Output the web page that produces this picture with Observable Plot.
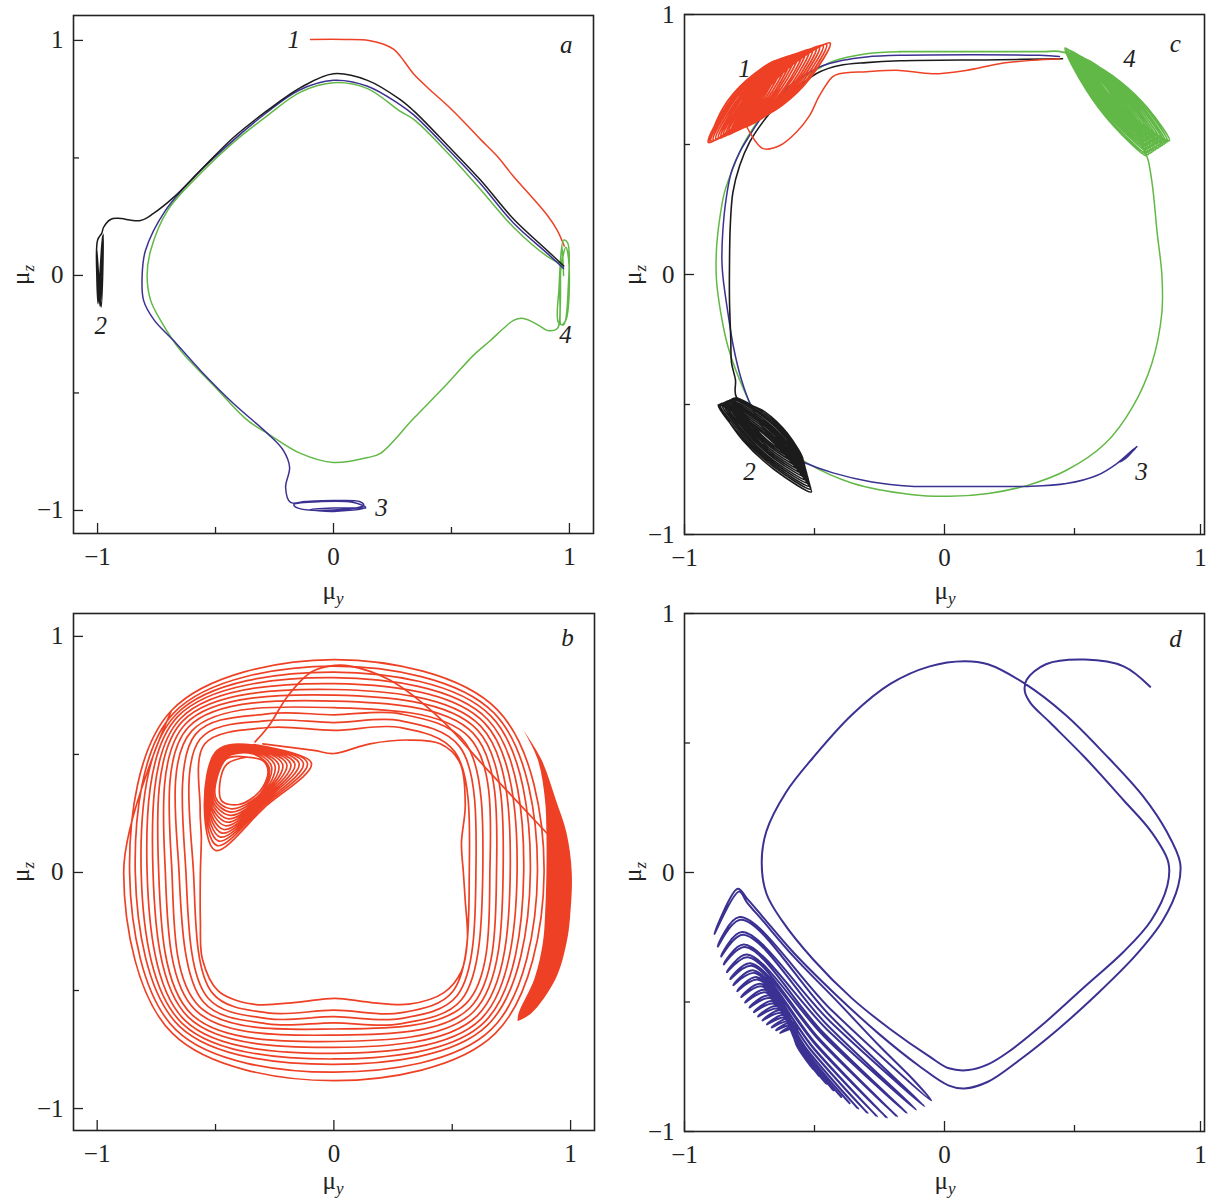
<!DOCTYPE html>
<html><head><meta charset="utf-8">
<script src="https://cdn.jsdelivr.net/npm/d3@7"></script>
<script src="https://cdn.jsdelivr.net/npm/@observablehq/plot@0.6"></script>
<style>
body{margin:0;background:#fff;}
#root{position:relative;width:1207px;height:1200px;overflow:hidden;font-family:"Liberation Serif","Times New Roman",serif;color:#222;}
.lab{position:absolute;font-size:25px;white-space:nowrap;line-height:1;}
.lab .s{font-style:italic;font-size:17px;position:relative;top:5px;}
</style></head><body><div id="root"></div>
<script>
const RED="#ee4024", BLUE="#3a3192", GREEN="#62b846", BLACK="#1b1b1b";
const majorTicks=[-1,0,1], minorTicks=[-0.5,0.5];

// ---------- Panel a ----------
const aRed=[[-0.097,1.004],[0.05,1.004],[0.15,1.0],[0.21,0.985],[0.256,0.962],[0.285,0.93],[0.305,0.904],[0.34,0.857],[0.411,0.788],[0.483,0.723],[0.551,0.655],[0.623,0.579],[0.695,0.506],[0.763,0.421],[0.835,0.34],[0.907,0.255],[0.949,0.191],[0.978,0.125]];
const aBlack=[[-0.99,0.0],[-0.978,0.17],[-0.998,-0.12],[-1.004,0.12],[-0.985,-0.135],[-0.976,0.175],[-0.995,-0.11],[-1.003,0.1],[-0.99,-0.13],[-0.98,0.16],[-0.997,-0.08],[-1.0,0.15],[-0.982,0.18],[-0.975,0.204],[-0.945,0.238],[-0.915,0.243],[-0.818,0.234],[-0.763,0.264],[-0.678,0.332],[-0.564,0.447],[-0.424,0.587],[-0.28,0.702],[-0.14,0.799],[0,0.858],[0.144,0.83],[0.28,0.75],[0.34,0.70],[0.482,0.555],[0.623,0.406],[0.764,0.239],[0.906,0.106],[0.976,0.04]];
const aBlue=[[0.975,0.03],[0.906,0.094],[0.764,0.222],[0.623,0.39],[0.482,0.54],[0.34,0.683],[0.28,0.728],[0.144,0.805],[0,0.83],[-0.148,0.787],[-0.288,0.689],[-0.424,0.576],[-0.572,0.438],[-0.712,0.277],[-0.797,0.106],[-0.811,0.0],[-0.805,-0.106],[-0.76,-0.19],[-0.678,-0.277],[-0.564,-0.404],[-0.424,-0.545],[-0.28,-0.672],[-0.212,-0.745],[-0.186,-0.817],[-0.203,-0.902],[-0.182,-0.966],[-0.12,-0.962],[0.0,-0.958],[0.11,-0.962],[0.128,-0.978],[0.0,-0.998],[-0.15,-0.99],[-0.168,-0.975],[-0.05,-0.962],[0.08,-0.965],[0.136,-0.987],[0.0,-1.004],[-0.1,-0.997],[0.0,-0.99],[0.136,-0.99]];
const aGreen=[[0.975,0.0],[0.968,0.13],[0.956,-0.05],[0.953,-0.2],[0.975,-0.21],[0.995,-0.05],[0.992,0.14],[0.975,0.15],[0.962,-0.1],[0.965,-0.21],[0.985,-0.19],[0.998,0.05],[0.985,0.12],[0.96,0.0],[0.949,-0.226],[0.907,-0.234],[0.864,-0.209],[0.805,-0.183],[0.763,-0.191],[0.72,-0.226],[0.665,-0.277],[0.593,-0.34],[0.483,-0.46],[0.339,-0.609],[0.199,-0.757],[0.144,-0.775],[0,-0.796],[-0.14,-0.757],[-0.28,-0.672],[-0.364,-0.617],[-0.508,-0.468],[-0.648,-0.32],[-0.733,-0.191],[-0.775,-0.106],[-0.79,0.0],[-0.775,0.106],[-0.703,0.277],[-0.564,0.434],[-0.424,0.566],[-0.28,0.68],[-0.14,0.78],[0,0.82],[0.144,0.795],[0.28,0.70],[0.34,0.664],[0.482,0.523],[0.623,0.366],[0.764,0.204],[0.906,0.081],[0.962,0.05]];
const aLabels=[{x:-0.169,y:1.0,t:"1"},{x:-0.987,y:-0.213,t:"2"},{x:0.203,y:-0.991,t:"3"},{x:0.983,y:-0.255,t:"4"},{x:0.987,y:0.979,t:"a"}];

// ---------- Panel b ----------
const bLine=[[0.90,0.166],[0.646,0.438],[0.449,0.652],[0.234,0.816],[0.07,0.874],[0.004,0.877],[-0.095,0.849],[-0.193,0.75],[-0.276,0.619],[-0.333,0.553]];
const bSpiral=[
[-0.338,0.542],[-0.095,0.463],[-0.295,0.274],[-0.5,0.093],[-0.547,0.277],[-0.493,0.517],
[-0.338,0.540],[-0.112,0.463],[-0.298,0.281],[-0.493,0.114],[-0.544,0.280],[-0.490,0.514],
[-0.338,0.537],[-0.129,0.463],[-0.299,0.288],[-0.486,0.133],[-0.541,0.284],[-0.487,0.511],
[-0.338,0.534],[-0.147,0.462],[-0.301,0.295],[-0.479,0.150],[-0.538,0.288],[-0.484,0.508],
[-0.338,0.531],[-0.165,0.460],[-0.302,0.301],[-0.472,0.167],[-0.535,0.291],[-0.482,0.506],
[-0.338,0.528],[-0.182,0.459],[-0.304,0.306],[-0.465,0.182],[-0.532,0.294],[-0.479,0.503],
[-0.338,0.525],[-0.199,0.458],[-0.305,0.312],[-0.458,0.198],[-0.528,0.298],[-0.476,0.500],
[-0.338,0.523],[-0.216,0.456],[-0.305,0.318],[-0.451,0.213],[-0.524,0.301],[-0.473,0.497],
[-0.338,0.518],[-0.233,0.455],[-0.306,0.322],[-0.445,0.227],[-0.518,0.305],[-0.469,0.493],
[-0.338,0.514],[-0.249,0.453],[-0.306,0.326],[-0.439,0.242],[-0.513,0.309],[-0.465,0.489],
[-0.340,0.508],[-0.264,0.451],[-0.308,0.331],[-0.436,0.256],[-0.507,0.314],[-0.460,0.484],
[-0.345,0.503],[-0.274,0.446],[-0.309,0.335],[-0.436,0.270],[-0.500,0.319],[-0.455,0.480],
[-0.366,0.489],[-0.298,0.472],[-0.278,0.425],[-0.312,0.345],[-0.401,0.288],[-0.473,0.302],[-0.482,0.376],[-0.453,0.458],[-0.366,0.489]];
const bLoops=[
[-0.30,0.545],[-0.085,0.517],[0.0,0.504],[0.152,0.545],[0.317,0.561],[0.449,0.545],[0.53,0.47],[0.555,0.29],[0.539,0.125],[0.547,0.0],[0.555,-0.12],[0.564,-0.286],[0.539,-0.418],[0.465,-0.509],[0.317,-0.558],[0.152,-0.55],[0.004,-0.533],[-0.16,-0.55],[-0.341,-0.558],[-0.49,-0.5],[-0.555,-0.369],[-0.564,-0.204],[-0.564,0.0],[-0.560,0.15],[-0.565,0.27],
[-0.545,0.545],[-0.28,0.614],[0,0.602],[0.28,0.614],[0.511,0.511],[0.572,0],[0.503,-0.503],[0.28,-0.595],[0,-0.583],[-0.28,-0.595],[-0.512,-0.512],[-0.593,0],
[-0.565,0.565],[-0.28,0.643],[0,0.635],[0.28,0.643],[0.532,0.532],[0.600,0],[0.521,-0.521],[0.28,-0.619],[0,-0.611],[-0.28,-0.619],[-0.532,-0.532],[-0.625,0],
[-0.585,0.585],[-0.28,0.672],[0,0.668],[0.28,0.672],[0.553,0.553],[0.629,0],[0.539,-0.539],[0.28,-0.641],[0,-0.637],[-0.28,-0.641],[-0.550,-0.550],[-0.654,0],
[-0.600,0.600],[0,0.698],[0.572,0.572],[0.659,0],[0.557,-0.557],[0,-0.663],[-0.568,-0.568],[-0.684,0],
[-0.615,0.615],[0,0.726],[0.589,0.589],[0.687,0],[0.574,-0.574],[0,-0.689],[-0.584,-0.584],[-0.712,0],
[-0.628,0.628],[0,0.751],[0.605,0.605],[0.715,0],[0.590,-0.590],[0,-0.716],[-0.601,-0.601],[-0.740,0],
[-0.640,0.640],[0,0.775],[0.620,0.620],[0.745,0],[0.606,-0.606],[0,-0.741],[-0.614,-0.614],[-0.764,0],
[-0.650,0.650],[0,0.800],[0.635,0.635],[0.774,0],[0.621,-0.621],[0,-0.766],[-0.628,-0.628],[-0.789,0],
[-0.660,0.660],[0,0.825],[0.649,0.649],[0.802,0],[0.635,-0.635],[0,-0.790],[-0.640,-0.640],[-0.814,0],
[-0.668,0.668],[0,0.849],[0.663,0.663],[0.830,0],[0.648,-0.648],[0,-0.813],[-0.652,-0.652],[-0.839,0],
[-0.676,0.676],[0,0.874],[0.676,0.676],[0.860,0],[0.665,-0.665],[0,-0.846],[-0.667,-0.667],[-0.863,0],
[-0.686,0.686],[0,0.902],[0.690,0.690],[0.888,0],[0.682,-0.682],[0,-0.882],[-0.682,-0.682],[-0.888,0],[-0.686,0.686]];
const bBandY=[0.602,0.474,0.305,0.165,0.0,-0.19,-0.30,-0.45,-0.60,-0.632];
const bBandX1=[0.802,0.864,0.894,0.90,0.90,0.894,0.885,0.85,0.782,0.778];
const bBandX2=[0.802,0.88,0.94,0.985,1.007,1.0,0.985,0.94,0.835,0.778];
const bLabels=[{x:0.987,y:0.992,t:"b"}];

// ---------- Panel c ----------
const cRedPath=[[0.442,0.830],[0.338,0.824],[0.212,0.811],[0.083,0.785],[-0.046,0.772],[-0.173,0.785],[-0.30,0.78],[-0.404,0.772],[-0.431,0.76],[-0.481,0.688],[-0.519,0.611],[-0.57,0.547],[-0.635,0.495],[-0.70,0.485],[-0.763,0.573]];
const cRedCluster=[
[-0.763,0.573],[-0.623,0.652],[-0.516,0.757],[-0.440,0.890],[-0.580,0.811],[-0.687,0.706],
[-0.773,0.568],[-0.635,0.647],[-0.528,0.752],[-0.454,0.885],[-0.592,0.806],[-0.699,0.701],
[-0.782,0.565],[-0.645,0.643],[-0.540,0.749],[-0.467,0.881],[-0.604,0.803],[-0.709,0.697],
[-0.792,0.560],[-0.656,0.639],[-0.553,0.744],[-0.481,0.877],[-0.617,0.798],[-0.720,0.693],
[-0.802,0.556],[-0.667,0.634],[-0.565,0.740],[-0.494,0.872],[-0.629,0.794],[-0.731,0.688],
[-0.812,0.551],[-0.679,0.629],[-0.577,0.735],[-0.508,0.867],[-0.641,0.789],[-0.743,0.683],
[-0.821,0.547],[-0.689,0.626],[-0.589,0.731],[-0.521,0.864],[-0.653,0.785],[-0.753,0.680],
[-0.831,0.543],[-0.700,0.621],[-0.602,0.727],[-0.535,0.859],[-0.666,0.781],[-0.764,0.675],
[-0.840,0.538],[-0.711,0.616],[-0.613,0.722],[-0.548,0.854],[-0.677,0.776],[-0.775,0.670],
[-0.850,0.535],[-0.722,0.613],[-0.626,0.718],[-0.562,0.850],[-0.690,0.772],[-0.786,0.667],
[-0.859,0.530],[-0.732,0.608],[-0.638,0.714],[-0.575,0.846],[-0.702,0.768],[-0.796,0.662],
[-0.869,0.525],[-0.744,0.603],[-0.650,0.709],[-0.589,0.841],[-0.714,0.763],[-0.808,0.657],
[-0.879,0.522],[-0.755,0.600],[-0.662,0.705],[-0.602,0.837],[-0.726,0.759],[-0.819,0.654],
[-0.889,0.517],[-0.766,0.595],[-0.675,0.700],[-0.616,0.832],[-0.739,0.754],[-0.830,0.649],
[-0.898,0.513],[-0.776,0.591],[-0.687,0.696],[-0.629,0.828],[-0.751,0.750],[-0.840,0.645],
[-0.908,0.508],[-0.788,0.586],[-0.699,0.691],[-0.643,0.823],[-0.763,0.745],[-0.852,0.640],[-0.908,0.508]];
const cBlack=[[0.454,0.830],[0.212,0.826],[-0.173,0.822],[-0.301,0.815],[-0.404,0.804],[-0.481,0.779],[-0.558,0.727],[-0.635,0.663],[-0.699,0.586],[-0.75,0.508],[-0.788,0.418],[-0.814,0.315],[-0.824,0.186],[-0.827,0.032],[-0.827,-0.097],[-0.822,-0.25],[-0.819,-0.34],[-0.804,-0.405],
[-0.800,-0.472],[-0.691,-0.528],[-0.606,-0.609],[-0.545,-0.715],[-0.654,-0.659],[-0.739,-0.578],
[-0.806,-0.475],[-0.694,-0.534],[-0.606,-0.617],[-0.542,-0.726],[-0.654,-0.667],[-0.742,-0.584],
[-0.813,-0.477],[-0.698,-0.539],[-0.606,-0.625],[-0.539,-0.737],[-0.654,-0.675],[-0.746,-0.589],
[-0.819,-0.480],[-0.701,-0.544],[-0.606,-0.634],[-0.536,-0.748],[-0.654,-0.684],[-0.749,-0.594],
[-0.826,-0.483],[-0.704,-0.550],[-0.607,-0.642],[-0.533,-0.759],[-0.655,-0.692],[-0.752,-0.600],
[-0.832,-0.486],[-0.707,-0.556],[-0.607,-0.650],[-0.530,-0.770],[-0.655,-0.700],[-0.755,-0.606],
[-0.838,-0.488],[-0.710,-0.561],[-0.607,-0.658],[-0.527,-0.781],[-0.655,-0.708],[-0.758,-0.611],
[-0.845,-0.491],[-0.714,-0.566],[-0.607,-0.667],[-0.524,-0.792],[-0.655,-0.717],[-0.762,-0.616],
[-0.851,-0.494],[-0.717,-0.572],[-0.607,-0.675],[-0.521,-0.803],[-0.655,-0.725],[-0.765,-0.622],
[-0.858,-0.496],[-0.721,-0.577],[-0.607,-0.683],[-0.518,-0.814],[-0.655,-0.733],[-0.769,-0.627],
[-0.864,-0.499],[-0.724,-0.583],[-0.607,-0.691],[-0.515,-0.825],[-0.655,-0.741],[-0.772,-0.633],
[-0.870,-0.502],[-0.727,-0.588],[-0.607,-0.700],[-0.512,-0.836],[-0.655,-0.750],[-0.775,-0.638],[-0.870,-0.502]];
const cBlue=[[0.442,0.838],[0.365,0.843],[-0.173,0.843],[-0.301,0.837],[-0.391,0.824],[-0.481,0.798],[-0.558,0.753],[-0.635,0.688],[-0.699,0.611],[-0.75,0.534],[-0.788,0.47],[-0.82,0.393],[-0.84,0.29],[-0.853,0.161],[-0.856,0.05],[-0.851,-0.019],[-0.833,-0.148],[-0.812,-0.277],[-0.781,-0.405],[-0.743,-0.508],[-0.683,-0.611],[-0.608,-0.688],[-0.535,-0.725],[-0.429,-0.763],[-0.279,-0.798],[-0.131,-0.814],[0.019,-0.815],[0.169,-0.815],[0.319,-0.815],[0.469,-0.804],[0.588,-0.772],[0.663,-0.727],[0.731,-0.669],[0.70,-0.705],[0.672,-0.722],[0.735,-0.668],[0.712,-0.69],[0.68,-0.715],[0.74,-0.662]];
const cGreenCluster=[[-0.173,0.857],[0.1,0.857],[0.377,0.857],[0.44,0.858],
[0.545,0.824],[0.676,0.742],[0.782,0.639],[0.865,0.515],[0.734,0.597],[0.628,0.700],
[0.539,0.828],[0.669,0.743],[0.776,0.638],[0.858,0.511],[0.728,0.596],[0.621,0.701],
[0.533,0.831],[0.663,0.744],[0.769,0.635],[0.851,0.506],[0.721,0.593],[0.615,0.702],
[0.526,0.835],[0.656,0.745],[0.763,0.634],[0.845,0.502],[0.715,0.592],[0.608,0.703],
[0.520,0.838],[0.650,0.745],[0.756,0.632],[0.838,0.497],[0.708,0.590],[0.602,0.703],
[0.514,0.842],[0.644,0.747],[0.749,0.630],[0.831,0.493],[0.701,0.588],[0.596,0.705],
[0.508,0.846],[0.637,0.748],[0.743,0.628],[0.824,0.488],[0.695,0.586],[0.589,0.706],
[0.501,0.849],[0.630,0.748],[0.736,0.627],[0.817,0.484],[0.688,0.585],[0.582,0.706],
[0.495,0.853],[0.624,0.749],[0.729,0.625],[0.810,0.479],[0.681,0.583],[0.576,0.707],
[0.489,0.857],[0.618,0.751],[0.722,0.623],[0.803,0.475],[0.674,0.581],[0.570,0.709],
[0.483,0.860],[0.612,0.751],[0.716,0.621],[0.797,0.470],[0.668,0.579],[0.564,0.709],
[0.476,0.864],[0.605,0.752],[0.709,0.620],[0.790,0.466],[0.661,0.578],[0.557,0.710],
[0.470,0.867],[0.598,0.753],[0.703,0.617],[0.783,0.461],[0.655,0.575],[0.550,0.711],
[0.464,0.871],[0.592,0.754],[0.696,0.616],[0.776,0.457],[0.648,0.574],[0.544,0.712],
[0.464,0.871],[0.592,0.754],[0.696,0.616],[0.776,0.457]];
const cGreenLoop=[[0.776,0.457],[0.782,0.444],[0.80,0.34],[0.818,0.16],[0.836,0.0],[0.836,-0.147],[0.798,-0.340],[0.723,-0.510],[0.619,-0.649],[0.469,-0.753],[0.319,-0.811],[0.169,-0.842],[0.019,-0.853],[-0.131,-0.846],[-0.354,-0.803],[-0.535,-0.722],[-0.654,-0.637],[-0.728,-0.533],[-0.788,-0.405],[-0.833,-0.277],[-0.86,-0.15],[-0.877,-0.02],[-0.877,0.097],[-0.865,0.212],[-0.846,0.317],[-0.815,0.405],[-0.777,0.494],[-0.738,0.560],[-0.685,0.637],[-0.608,0.714],[-0.531,0.764],[-0.431,0.819],[-0.300,0.849],[-0.173,0.857]];
const cLabels=[{x:-0.769,y:0.792,t:"1"},{x:0.712,y:0.830,t:"4"},{x:-0.75,y:-0.761,t:"2"},{x:0.758,y:-0.761,t:"3"},{x:0.888,y:0.888,t:"c"}];

// ---------- Panel d ----------
const dBlue=[[0.791,0.717],[0.689,0.796],[0.54,0.822],[0.39,0.804],[0.316,0.744],[0.309,0.699],[0.331,0.654],[0.406,0.579],[0.54,0.444],[0.689,0.279],[0.794,0.159],[0.861,0.039],[0.857,-0.051],[0.794,-0.186],[0.689,-0.306],[0.54,-0.44],[0.39,-0.576],[0.241,-0.696],[0.167,-0.741],[0.092,-0.763],[0.017,-0.756],[-0.057,-0.711],[-0.207,-0.606],[-0.356,-0.486],[-0.505,-0.336],[-0.625,-0.186],[-0.685,-0.081],[-0.703,0.039],[-0.685,0.159],[-0.61,0.309],[-0.505,0.444],[-0.356,0.609],[-0.207,0.729],[-0.057,0.796],[0.077,0.816],[0.167,0.804],[0.309,0.729],[0.465,0.609],[0.615,0.459],[0.764,0.294],[0.854,0.159],[0.906,0.039],[0.899,-0.051],[0.839,-0.186],[0.734,-0.321],[0.585,-0.471],[0.436,-0.606],[0.286,-0.726],[0.167,-0.808],[0.077,-0.834],[0.017,-0.823],
[-0.10,-0.745],[-0.25,-0.625],[-0.42,-0.47],[-0.58,-0.31],[-0.70,-0.17],[-0.76,-0.10],[-0.795,-0.063],[-0.885,-0.237],[-0.79,-0.073],[-0.76,-0.115],[-0.70,-0.185],[-0.58,-0.325],[-0.42,-0.49],[-0.25,-0.67],[-0.12,-0.80],[-0.051,-0.880],
[-0.430,-0.536],[-0.788,-0.172],[-0.872,-0.286],[-0.783,-0.182],[-0.440,-0.553],[-0.077,-0.903],
[-0.438,-0.577],[-0.779,-0.230],[-0.859,-0.324],[-0.774,-0.240],[-0.452,-0.588],[-0.109,-0.916],
[-0.451,-0.607],[-0.772,-0.278],[-0.849,-0.355],[-0.767,-0.288],[-0.466,-0.619],[-0.145,-0.929],
[-0.463,-0.633],[-0.760,-0.317],[-0.837,-0.385],[-0.755,-0.327],[-0.479,-0.645],[-0.183,-0.942],
[-0.475,-0.656],[-0.747,-0.350],[-0.824,-0.412],[-0.742,-0.360],[-0.492,-0.664],[-0.222,-0.947],
[-0.489,-0.673],[-0.735,-0.378],[-0.812,-0.435],[-0.730,-0.388],[-0.505,-0.675],[-0.260,-0.942],
[-0.501,-0.683],[-0.721,-0.404],[-0.797,-0.458],[-0.716,-0.414],[-0.516,-0.682],[-0.296,-0.929],
[-0.511,-0.690],[-0.706,-0.430],[-0.782,-0.481],[-0.701,-0.440],[-0.527,-0.686],[-0.332,-0.912],
[-0.522,-0.693],[-0.691,-0.453],[-0.767,-0.502],[-0.686,-0.463],[-0.536,-0.687],[-0.365,-0.891],
[-0.531,-0.693],[-0.676,-0.475],[-0.750,-0.521],[-0.671,-0.485],[-0.544,-0.686],[-0.397,-0.867],
[-0.539,-0.692],[-0.660,-0.497],[-0.733,-0.539],[-0.655,-0.507],[-0.551,-0.685],[-0.427,-0.842],
[-0.546,-0.689],[-0.645,-0.516],[-0.717,-0.556],[-0.640,-0.526],[-0.558,-0.681],[-0.455,-0.816],
[-0.552,-0.685],[-0.629,-0.533],[-0.700,-0.571],[-0.624,-0.543],[-0.563,-0.676],[-0.481,-0.788],
[-0.558,-0.679],[-0.614,-0.550],[-0.683,-0.586],[-0.609,-0.560],[-0.567,-0.671],[-0.504,-0.761],
[-0.562,-0.673],[-0.599,-0.565],[-0.665,-0.598],[-0.594,-0.575],[-0.569,-0.664],[-0.524,-0.732],
[-0.565,-0.665],[-0.585,-0.578],[-0.648,-0.609],[-0.580,-0.588],[-0.570,-0.657],[-0.540,-0.705],
[-0.566,-0.658],[-0.572,-0.590],[-0.632,-0.619],[-0.567,-0.600],[-0.570,-0.650],[-0.552,-0.680]];
const dLabels=[{x:0.888,y:0.903,t:"d"}];

// ---------- drawing ----------
const root=document.getElementById("root");
const fmt=d=>d<0?"\u2212"+Math.abs(d):String(d);
const band=bBandY.map((y,i)=>({y,x1:bBandX1[i],x2:bBandX2[i]}));

function panel({left,top,width,height,mL,mR,mT,mB,xd,yd,lines,extra=[],labels,edgeOne=false}){
  const xLab = edgeOne ? [
      Plot.axisX([-1,0],{tickSize:-10,tickPadding:24,tickFormat:fmt,fontSize:25,label:null,strokeWidth:1.3}),
      Plot.axisX([1],{tickSize:-10,tickPadding:24,tickFormat:fmt,fontSize:25,label:null,strokeWidth:1.3,dx:-4})
    ] : [Plot.axisX(majorTicks,{tickSize:-10,tickPadding:24,tickFormat:fmt,fontSize:25,label:null,strokeWidth:1.3})];
  const svg=Plot.plot({
    width,height,marginLeft:mL,marginRight:mR,marginTop:mT,marginBottom:mB,
    x:{domain:xd},y:{domain:yd},
    style:{fontFamily:'"Liberation Serif","Times New Roman",serif',fontSize:"25px",color:"#222",background:"none",overflow:"visible"},
    marks:[
      ...extra,
      ...lines.map(([data,color,sw])=>Plot.line(data,{x:d=>d[0],y:d=>d[1],stroke:color,strokeWidth:sw,curve:"catmull-rom"})),
      Plot.frame({stroke:"#222",strokeWidth:1.6}),
      ...xLab,
      Plot.axisX(minorTicks,{tickSize:-6,tickFormat:()=>"",label:null,strokeWidth:1.3}),
      Plot.axisY(majorTicks,{tickSize:-10,tickPadding:20,tickFormat:fmt,fontSize:25,label:null,strokeWidth:1.3}),
      Plot.axisY(minorTicks,{tickSize:-6,tickFormat:()=>"",label:null,strokeWidth:1.3}),
      Plot.text(labels,{x:"x",y:"y",text:"t",fontStyle:"italic",fontSize:25,fill:"#222"})
    ]
  });
  svg.style.position="absolute";svg.style.left=left+"px";svg.style.top=top+"px";svg.style.maxWidth="none";
  root.appendChild(svg);
}
function axisLabel(sub,cx,cy,rot){
  const d=document.createElement("div");d.className="lab";
  d.innerHTML='\u03bc<span class="s">'+sub+'</span>';
  d.style.left=cx+"px";d.style.top=cy+"px";
  d.style.transform="translate(-50%,-50%)"+(rot?" rotate(-90deg)":"");
  root.appendChild(d);
}

panel({left:0,top:0,width:600,height:580,mL:73,mR:7,mT:15,mB:47,xd:[-1.102,1.102],yd:[-1.098,1.106],
  lines:[[aRed,RED,1.5],[aGreen,GREEN,1.5],[aBlue,BLUE,1.5],[aBlack,BLACK,1.5]],labels:aLabels});
panel({left:0,top:598,width:600,height:580,mL:73,mR:6,mT:15,mB:48,xd:[-1.10,1.101],yd:[-1.093,1.097],
  extra:[Plot.areaX(band,{y:"y",x1:"x1",x2:"x2",fill:RED,curve:"catmull-rom"})],
  lines:[[bLoops,RED,1.7],[bSpiral,RED,1.7],[bLine,RED,1.7]],labels:bLabels});
panel({left:611,top:0,width:596,height:580,mL:73,mR:3,mT:14,mB:46,xd:[-1,1],yd:[-1,1],edgeOne:true,
  lines:[[cGreenLoop,GREEN,1.5],[cGreenCluster,GREEN,1.7],[cBlue,BLUE,1.5],[cBlack,BLACK,1.6],[cRedPath,RED,1.5],[cRedCluster,RED,1.8]],labels:cLabels});
panel({left:611,top:598,width:596,height:580,mL:73,mR:3,mT:15,mB:47,xd:[-1,1],yd:[-1,1],edgeOne:true,
  lines:[[dBlue,BLUE,2.0]],labels:dLabels});

axisLabel("z",20,275,true);axisLabel("y",333,590,false);
axisLabel("z",632,275,true);axisLabel("y",945,590,false);
axisLabel("z",20,872,true);axisLabel("y",333,1180,false);
axisLabel("z",632,872,true);axisLabel("y",945,1180,false);
</script></body></html>
